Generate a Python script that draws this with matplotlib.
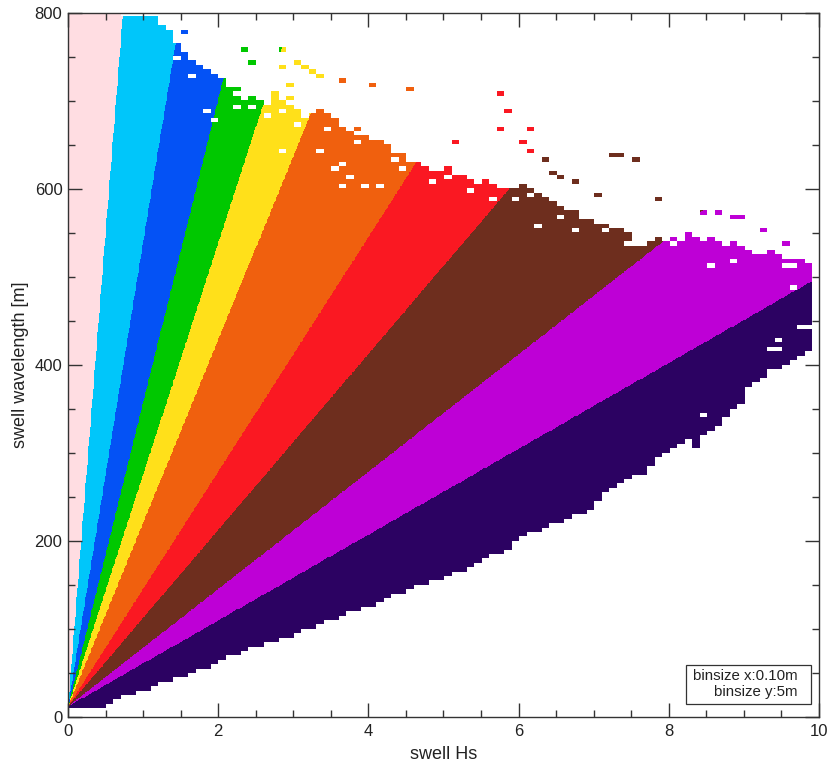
import matplotlib
matplotlib.use("Agg")
import matplotlib.pyplot as plt
import numpy as np
from matplotlib.colors import ListedColormap, BoundaryNorm
from matplotlib.patches import Rectangle
from matplotlib.ticker import MultipleLocator

plt.rcParams["font.family"] = ["Liberation Sans", "DejaVu Sans"]

# ── datos ────────────────────────────────────────────────────────────────────

HS_BIN = 0.10      # m
WL_BIN = 5.0       # m
WL_OFFSET = 12.0   # las líneas de pendiente convergen en ~12 m

# límites de pendiente Hs / (L - offset) entre clases de color
steepness_limits = [0.00093, 0.0019, 0.0029, 0.0038, 0.0048, 0.0075, 0.010, 0.015, 0.0205]

class_colors = [
    "#FFDDE2",  # rosa
    "#00C6FA",  # celeste
    "#0452F5",  # azul
    "#00C800",  # verde
    "#FFE01A",  # amarillo
    "#F0600E",  # naranja
    "#FA1822",  # rojo
    "#6E2E1E",  # marrón
    "#BE00D6",  # magenta
    "#2C0262",  # índigo
]

# borde superior de la nube por columna de Hs (0.0, 0.1, ... 9.8)
wl_top = [
    800, 800, 800, 800, 800, 800, 800, 795, 795, 795,
    795, 795, 785, 780, 765, 755, 745, 740, 735, 730,
    725, 715, 705, 700, 705, 700, 695, 705, 700, 695,
    690, 680, 685, 690, 685, 680, 670, 665, 670, 660,
    655, 655, 650, 640, 640, 635, 630, 625, 625, 620,
    625, 615, 615, 610, 605, 610, 605, 600, 600, 600,
    605, 600, 595, 590, 585, 580, 575, 575, 570, 565,
    560, 560, 555, 555, 550, 535, 535, 540, 545, 540,
    545, 540, 550, 545, 540, 545, 540, 535, 540, 535,
    530, 525, 525, 530, 525, 520, 520, 520, 515,
]

# borde inferior de la nube por columna de Hs
wl_bottom = [
    10, 10, 10, 10, 10, 15, 20, 25, 25, 30,
    30, 35, 40, 40, 45, 45, 50, 55, 55, 60,
    65, 70, 70, 75, 80, 80, 85, 85, 90, 90,
    95, 100, 100, 105, 110, 110, 115, 120, 120, 125,
    125, 130, 135, 140, 140, 145, 150, 150, 155, 155,
    160, 165, 165, 170, 175, 180, 185, 185, 190, 200,
    205, 210, 210, 215, 220, 220, 225, 230, 230, 235,
    245, 255, 260, 265, 270, 275, 275, 285, 295, 300,
    305, 310, 315, 305, 320, 325, 330, 340, 350, 355,
    375, 380, 385, 395, 395, 400, 405, 410, 415,
]

# celdas vacías dentro de la nube (Hs, L)
holes_hs = [1.83, 1.98, 2.20, 2.87, 2.82, 3.05, 3.32, 3.49, 3.62, 3.36,
            3.58, 3.71, 3.62, 3.93, 4.20, 3.89, 4.33, 4.55, 4.82, 4.82,
            5.09, 5.39, 5.62, 6.19, 6.28, 6.60, 6.73, 6.82, 7.48, 8.06,
            8.59, 8.81, 9.52, 9.70, 9.61, 9.50, 9.33, 9.50, 8.42, 8.82,
            9.75, 9.85, 1.45, 1.62, 2.45, 2.62, 3.85, 4.45, 5.95, 7.15]
holes_wl = [686, 675, 693, 686, 641, 670, 641, 667, 625, 641,
            624, 613, 602, 603, 602, 664, 633, 630, 622, 609,
            611, 597, 586, 593, 559, 567, 552, 567, 536, 536,
            513, 517, 513, 513, 485, 428, 419, 415, 340, 340,
            443, 440, 745, 725, 690, 680, 650, 620, 585, 550]

# celdas aisladas por encima de la nube (Hs, L)
islands_hs = [1.53, 2.33, 2.42, 2.82, 2.85, 2.73, 2.25, 3.05, 3.15, 3.22,
              3.40, 2.92, 2.96, 3.66, 4.06, 4.55, 5.78, 5.84, 5.71, 5.18,
              6.02, 6.20, 6.37, 6.46, 6.11, 7.26, 7.39, 7.53, 7.08, 7.88,
              8.42, 8.68, 8.86, 8.95, 9.21, 9.57, 6.55, 6.75]
islands_wl = [778, 755, 743, 755, 735, 709, 713, 743, 738, 733,
              726, 716, 701, 724, 718, 712, 706, 689, 669, 654,
              654, 643, 630, 619, 669, 637, 637, 630, 593, 586,
              573, 570, 565, 565, 553, 536, 610, 605]

binsize_lines = ["binsize x:0.10m", "binsize y:5m"]

# ── rejilla de ocurrencias ──────────────────────────────────────────────────

n_hs = int(round(10.0 / HS_BIN))
n_wl = int(round(800.0 / WL_BIN))

filled = np.zeros((n_wl, n_hs), dtype=bool)
for i, (lo, hi) in enumerate(zip(wl_bottom, wl_top)):
    filled[int(lo // WL_BIN):int(hi // WL_BIN), i] = True

for h, w in zip(holes_hs, holes_wl):
    filled[int(w // WL_BIN), int(h // HS_BIN)] = False
for h, w in zip(islands_hs, islands_wl):
    filled[int(w // WL_BIN), int(h // HS_BIN)] = True

# el color (clase de pendiente) se evalúa a resolución fina, la presencia
# de datos viene de la rejilla de 0.10 m x 5 m
SUB_X, SUB_Y = 10, 5
mask_fine = np.repeat(np.repeat(filled, SUB_Y, axis=0), SUB_X, axis=1)
hs_fine = (np.arange(n_hs * SUB_X) + 0.5) * HS_BIN / SUB_X
wl_fine = (np.arange(n_wl * SUB_Y) + 0.5) * WL_BIN / SUB_Y
hs_grid, wl_grid = np.meshgrid(hs_fine, wl_fine)
steepness = hs_grid / np.clip(wl_grid - WL_OFFSET, 0.5, None)
classes = np.digitize(steepness, steepness_limits).astype(float)
classes = np.ma.masked_where(~mask_fine, classes)

cmap = ListedColormap(class_colors)
cmap.set_bad("white", alpha=0.0)
norm = BoundaryNorm(np.arange(-0.5, len(class_colors)), cmap.N)

# ── figura ──────────────────────────────────────────────────────────────────

fig = plt.figure(figsize=(8.33, 7.64), dpi=100, facecolor="white")
ax = fig.add_axes([0.0816, 0.0615, 0.9016, 0.9215])
ax.imshow(classes, cmap=cmap, norm=norm, origin="lower", aspect="auto",
          extent=[0, 10, 0, 800], interpolation="nearest")

ax.set_xlim(0, 10)
ax.set_ylim(0, 800)
ax.xaxis.set_major_locator(MultipleLocator(2))
ax.xaxis.set_minor_locator(MultipleLocator(0.5))
ax.yaxis.set_major_locator(MultipleLocator(200))
ax.yaxis.set_minor_locator(MultipleLocator(50))
ax.tick_params(which="both", direction="in", top=True, right=True,
               color="#333333", width=1.0, labelsize=12, labelcolor="#222222")
ax.tick_params(which="major", length=10)
ax.tick_params(which="minor", length=5)
ax.tick_params(axis="x", pad=5)
ax.tick_params(axis="y", pad=4)
for spine in ax.spines.values():
    spine.set_color("#333333")
    spine.set_linewidth(1.0)

ax.set_xlabel("swell Hs", fontsize=13, color="#222222", labelpad=5)
ax.set_ylabel("swell wavelength [m]", fontsize=13, color="#222222", labelpad=4)

# recuadro con el tamaño de bin
ax.add_patch(Rectangle((0.823, 0.0185), 0.166, 0.0555, transform=ax.transAxes,
                       facecolor="white", edgecolor="#333333", linewidth=0.9,
                       zorder=5))
ax.text(0.971, 0.058, binsize_lines[0], transform=ax.transAxes, ha="right",
        va="center", fontsize=10.8, color="#222222", zorder=6)
ax.text(0.971, 0.0355, binsize_lines[1], transform=ax.transAxes, ha="right",
        va="center", fontsize=10.8, color="#222222", zorder=6)

fig.savefig("out.png", dpi=100, facecolor="white")
